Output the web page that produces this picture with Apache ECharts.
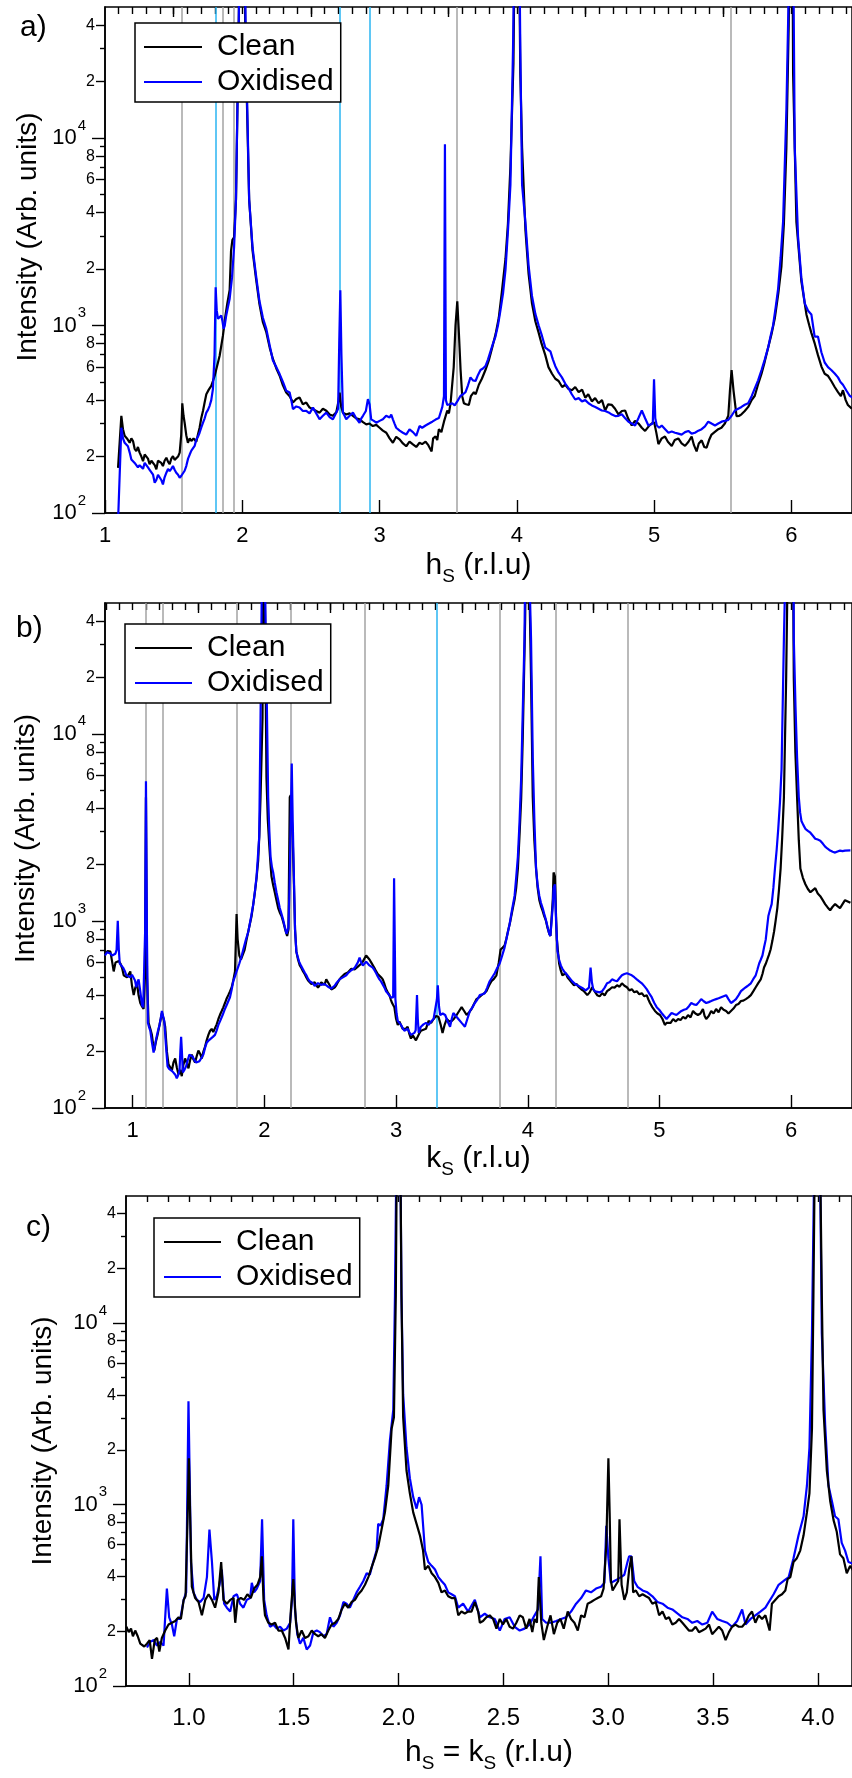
<!DOCTYPE html>
<html><head><meta charset="utf-8">
<script src="https://cdn.jsdelivr.net/npm/echarts@6/dist/echarts.min.js"></script>
<style>html,body{margin:0;padding:0;background:#fff}#c{width:852px;height:1778px}</style>
</head><body><div id="c"></div>
<script>
const FONT = '"Liberation Sans", Arial, Helvetica, sans-serif';

// ---- tick values / labels ----
const Y_MIN = 100, Y_MAX = 50000;
const Y_MAJOR = [100, 1000, 10000];
const Y_MINOR_LABELED = [200, 400, 600, 800, 2000, 4000, 6000, 8000, 20000, 40000];
const Y_MINOR = [300, 500, 700, 900, 3000, 5000, 7000, 9000, 30000];
const A_X_MAJOR = [1, 2, 3, 4, 5, 6];
const A_X_HALF = [1.5, 2.5, 3.5, 4.5, 5.5];
const B_X_MAJOR = [1, 2, 3, 4, 5, 6];
const B_X_HALF = [1.5, 2.5, 3.5, 4.5, 5.5];
const C_X_MAJOR = [1.0, 1.5, 2.0, 2.5, 3.0, 3.5, 4.0];

// ---- reference lines ----
const A_GRAY = [1.562, 1.863, 1.936, 3.562, 5.564];
const A_CYAN = [1.81, 2.71, 2.93];
const B_GRAY = [1.101, 1.23, 1.795, 2.2, 2.763, 3.795, 4.205, 4.763];
const B_CYAN = [3.31];

// ---- panel a: h_S scan ----
const A_CLEAN = [[1.095,174],[1.119,330],[1.131,280],[1.143,258],[1.16,250],[1.18,237],[1.192,250],[1.204,242],[1.216,220],[1.228,214],[1.24,225],[1.252,210],[1.265,200],[1.277,189],[1.289,205],[1.301,210],[1.313,195],[1.325,182],[1.338,190],[1.35,193],[1.362,180],[1.374,171],[1.386,190],[1.398,193],[1.41,185],[1.422,178],[1.434,190],[1.447,197],[1.459,188],[1.471,182],[1.483,195],[1.495,201],[1.507,192],[1.519,189],[1.532,200],[1.544,210],[1.555,260],[1.563,385],[1.572,330],[1.58,303],[1.592,260],[1.604,237],[1.617,250],[1.629,242],[1.645,250],[1.665,240],[1.677,262],[1.689,285],[1.701,320],[1.714,351],[1.726,390],[1.738,430],[1.756,455],[1.774,477],[1.786,505],[1.799,540],[1.817,610],[1.835,690],[1.847,780],[1.859,883],[1.875,1100],[1.89,1300],[1.908,1550],[1.918,2500],[1.928,2860],[1.94,2950],[1.954,4700],[1.973,36000],[1.99,300000],[2.0,400000],[2.01,300000],[2.022,36000],[2.05,4700],[2.075,2500],[2.1,1780],[2.125,1300],[2.15,1042],[2.175,921],[2.2,760],[2.223,663],[2.248,590],[2.272,540],[2.296,480],[2.32,439],[2.345,420],[2.369,388],[2.393,405],[2.417,413],[2.441,380],[2.466,388],[2.49,365],[2.515,358],[2.539,350],[2.563,343],[2.587,360],[2.612,351],[2.636,335],[2.66,330],[2.685,345],[2.702,400],[2.709,439],[2.72,370],[2.733,343],[2.757,335],[2.782,340],[2.806,330],[2.83,320],[2.854,316],[2.879,305],[2.903,297],[2.927,300],[2.951,291],[2.976,295],[3.0,285],[3.024,275],[3.049,268],[3.073,250],[3.097,237],[3.121,255],[3.146,247],[3.17,235],[3.194,227],[3.218,240],[3.243,232],[3.267,225],[3.291,237],[3.31,233],[3.335,240],[3.355,230],[3.379,213],[3.39,250],[3.408,256],[3.42,245],[3.432,280],[3.45,270],[3.469,307],[3.48,300],[3.493,352],[3.505,340],[3.517,385],[3.54,600],[3.553,1000],[3.566,1346],[3.578,900],[3.59,579],[3.602,420],[3.614,385],[3.63,380],[3.65,377],[3.665,420],[3.687,441],[3.7,430],[3.723,483],[3.745,520],[3.771,579],[3.795,650],[3.82,762],[3.845,900],[3.868,1096],[3.89,1500],[3.917,2265],[3.935,3500],[3.953,7060],[3.975,25000],[3.99,300000],[4.0,400000],[4.01,300000],[4.025,22000],[4.038,8870],[4.062,3260],[4.085,1900],[4.11,1313],[4.135,1050],[4.159,914],[4.18,800],[4.207,695],[4.23,600],[4.256,553],[4.28,520],[4.304,506],[4.33,470],[4.353,483],[4.375,460],[4.401,452],[4.425,470],[4.45,441],[4.475,455],[4.498,412],[4.52,430],[4.546,394],[4.57,410],[4.595,385],[4.62,400],[4.643,352],[4.665,380],[4.692,377],[4.715,360],[4.74,336],[4.765,350],[4.789,352],[4.81,320],[4.837,293],[4.86,310],[4.886,300],[4.91,285],[4.934,274],[4.96,290],[4.982,300],[5.0,305],[5.015,270],[5.031,233],[5.055,250],[5.079,256],[5.1,240],[5.128,228],[5.15,245],[5.176,250],[5.2,235],[5.225,228],[5.25,240],[5.273,256],[5.29,230],[5.309,213],[5.325,235],[5.346,244],[5.365,225],[5.382,223],[5.4,245],[5.418,262],[5.44,270],[5.467,280],[5.49,285],[5.515,300],[5.54,330],[5.552,450],[5.564,579],[5.578,450],[5.6,329],[5.62,330],[5.636,336],[5.66,350],[5.685,368],[5.71,400],[5.733,422],[5.755,480],[5.782,553],[5.805,640],[5.83,762],[5.855,900],[5.879,1096],[5.905,1500],[5.927,2070],[5.945,3500],[5.963,8870],[5.98,40000],[5.995,400000],[6.005,300000],[6.012,22000],[6.036,3570],[6.072,1725],[6.109,1146],[6.13,1000],[6.145,914],[6.17,800],[6.193,695],[6.22,600],[6.242,553],[6.265,540],[6.29,506],[6.315,470],[6.339,441],[6.36,420],[6.375,452],[6.395,400],[6.411,377],[6.44,360]];
const A_OXIDISED = [[1.095,90],[1.119,285],[1.131,250],[1.143,237],[1.155,240],[1.167,227],[1.18,210],[1.192,193],[1.204,190],[1.216,185],[1.228,182],[1.24,175],[1.252,180],[1.265,178],[1.277,172],[1.289,185],[1.301,182],[1.313,175],[1.325,170],[1.337,167],[1.35,160],[1.362,145],[1.374,150],[1.386,160],[1.398,157],[1.41,150],[1.422,142],[1.434,155],[1.447,164],[1.459,172],[1.471,167],[1.483,172],[1.495,178],[1.507,170],[1.519,164],[1.532,160],[1.544,154],[1.556,158],[1.568,160],[1.58,168],[1.592,178],[1.605,195],[1.617,205],[1.629,215],[1.641,210],[1.653,228],[1.665,247],[1.677,255],[1.689,268],[1.701,285],[1.714,303],[1.726,320],[1.738,343],[1.75,355],[1.762,373],[1.774,400],[1.786,458],[1.798,700],[1.806,1600],[1.814,1200],[1.823,1086],[1.835,1100],[1.847,1132],[1.856,1050],[1.864,960],[1.872,1000],[1.883,1132],[1.895,1250],[1.908,1390],[1.925,1800],[1.94,2600],[1.954,4700],[1.973,36000],[1.99,300000],[2.0,400000],[2.01,300000],[2.025,36000],[2.05,4700],[2.075,2600],[2.1,1850],[2.125,1350],[2.15,1100],[2.175,960],[2.2,780],[2.223,650],[2.248,600],[2.272,551],[2.296,500],[2.32,449],[2.345,439],[2.357,400],[2.369,358],[2.393,370],[2.417,365],[2.441,350],[2.466,351],[2.49,340],[2.515,365],[2.539,340],[2.563,316],[2.587,330],[2.612,343],[2.636,325],[2.66,316],[2.684,343],[2.698,360],[2.706,800],[2.714,1540],[2.722,700],[2.733,343],[2.745,330],[2.757,316],[2.782,330],[2.806,343],[2.83,320],[2.854,303],[2.867,320],[2.879,330],[2.9,350],[2.915,405],[2.927,380],[2.939,316],[2.958,310],[2.976,303],[3.0,310],[3.024,316],[3.048,330],[3.073,323],[3.085,335],[3.097,316],[3.109,300],[3.121,285],[3.146,275],[3.17,268],[3.194,262],[3.218,279],[3.243,270],[3.267,258],[3.291,291],[3.31,285],[3.335,293],[3.36,300],[3.384,307],[3.408,315],[3.432,321],[3.457,368],[3.469,420],[3.476,9270],[3.483,400],[3.493,377],[3.51,380],[3.529,385],[3.547,375],[3.566,394],[3.59,422],[3.608,430],[3.626,441],[3.644,480],[3.662,529],[3.68,510],[3.699,506],[3.717,545],[3.735,579],[3.753,590],[3.771,607],[3.79,660],[3.808,728],[3.826,800],[3.844,873],[3.862,1000],[3.88,1200],[3.9,1500],[3.917,1978],[3.935,3200],[3.953,5620],[3.972,30000],[3.99,300000],[4.0,400000],[4.012,300000],[4.025,30000],[4.038,5620],[4.062,3570],[4.085,2100],[4.11,1438],[4.135,1150],[4.159,1000],[4.183,880],[4.207,762],[4.225,745],[4.244,728],[4.262,660],[4.28,607],[4.304,560],[4.328,529],[4.352,490],[4.377,462],[4.4,430],[4.425,403],[4.45,410],[4.474,394],[4.498,400],[4.522,385],[4.546,375],[4.571,368],[4.595,360],[4.619,352],[4.643,350],[4.668,344],[4.692,335],[4.716,329],[4.74,330],[4.764,336],[4.789,320],[4.813,307],[4.837,300],[4.861,293],[4.885,320],[4.91,352],[4.934,320],[4.958,293],[4.99,300],[4.999,517],[5.008,320],[5.019,293],[5.037,285],[5.055,293],[5.08,280],[5.104,268],[5.128,272],[5.152,268],[5.176,265],[5.2,262],[5.225,270],[5.249,274],[5.273,265],[5.297,268],[5.322,275],[5.346,280],[5.37,290],[5.394,307],[5.418,300],[5.443,293],[5.467,300],[5.491,307],[5.515,310],[5.54,314],[5.564,330],[5.588,352],[5.612,360],[5.636,368],[5.66,378],[5.685,385],[5.71,420],[5.733,462],[5.757,510],[5.782,579],[5.806,660],[5.83,762],[5.848,880],[5.866,1000],[5.885,1250],[5.903,1575],[5.921,2300],[5.939,3570],[5.963,13960],[5.98,60000],[5.995,400000],[6.008,300000],[6.024,8870],[6.048,2980],[6.072,1800],[6.097,1313],[6.121,1200],[6.145,1146],[6.169,873],[6.193,873],[6.218,720],[6.242,635],[6.266,600],[6.29,579],[6.315,555],[6.339,529],[6.357,500],[6.375,483],[6.4,450],[6.424,422],[6.45,410]];

// ---- panel b: k_S scan ----
const B_CLEAN = [[0.79,668],[0.81,690],[0.831,685],[0.845,600],[0.856,537],[0.87,600],[0.881,592],[0.895,610],[0.907,592],[0.92,560],[0.932,512],[0.945,520],[0.957,499],[0.97,510],[0.982,537],[0.995,450],[1.008,401],[1.02,440],[1.033,464],[1.045,400],[1.058,364],[1.07,350],[1.083,338],[1.093,500],[1.101,4580],[1.109,500],[1.121,285],[1.134,265],[1.146,246],[1.155,220],[1.164,203],[1.176,225],[1.189,246],[1.205,280],[1.222,322],[1.235,300],[1.247,272],[1.26,200],[1.272,171],[1.285,165],[1.298,159],[1.31,175],[1.323,184],[1.335,165],[1.348,151],[1.36,160],[1.373,148],[1.385,170],[1.398,184],[1.41,175],[1.424,163],[1.436,180],[1.449,193],[1.461,182],[1.474,175],[1.487,190],[1.499,203],[1.512,195],[1.525,184],[1.537,200],[1.55,213],[1.562,230],[1.575,246],[1.587,258],[1.6,265],[1.612,255],[1.625,259],[1.638,280],[1.651,299],[1.663,315],[1.676,330],[1.688,345],[1.701,364],[1.714,385],[1.726,401],[1.739,420],[1.752,442],[1.764,480],[1.777,537],[1.784,800],[1.789,1089],[1.797,800],[1.81,653],[1.822,620],[1.835,606],[1.85,700],[1.865,794],[1.884,920],[1.903,1062],[1.916,1230],[1.928,1422],[1.941,1700],[1.953,2100],[1.962,2900],[1.971,4580],[1.986,12150],[1.995,300000],[2.005,300000],[2.016,5850],[2.026,3500],[2.037,2555],[2.047,2000],[2.054,1730],[2.067,1550],[2.079,1422],[2.092,1290],[2.105,1171],[2.117,1110],[2.13,1062],[2.143,990],[2.155,918],[2.164,870],[2.173,830],[2.183,900],[2.193,4580],[2.2,4700],[2.208,4800],[2.215,2800],[2.223,1730],[2.233,900],[2.243,685],[2.256,620],[2.269,578],[2.281,560],[2.294,537],[2.306,520],[2.319,499],[2.332,480],[2.344,476],[2.357,460],[2.369,453],[2.382,470],[2.395,464],[2.407,440],[2.42,453],[2.432,470],[2.445,476],[2.457,455],[2.47,487],[2.483,470],[2.496,453],[2.508,430],[2.521,421],[2.533,440],[2.546,453],[2.558,470],[2.571,487],[2.584,500],[2.596,512],[2.609,520],[2.622,525],[2.634,530],[2.647,537],[2.66,555],[2.672,563],[2.685,550],[2.697,563],[2.71,570],[2.723,578],[2.735,590],[2.748,606],[2.76,630],[2.773,653],[2.786,640],[2.798,622],[2.811,600],[2.823,592],[2.836,560],[2.849,537],[2.861,520],[2.874,512],[2.886,500],[2.899,487],[2.912,460],[2.924,432],[2.937,415],[2.95,401],[2.96,380],[2.97,364],[2.978,355],[2.987,346],[3.0,300],[3.013,278],[3.025,290],[3.038,285],[3.05,265],[3.063,259],[3.075,265],[3.088,272],[3.1,250],[3.113,235],[3.126,245],[3.139,240],[3.151,230],[3.164,235],[3.176,250],[3.189,259],[3.208,262],[3.227,265],[3.247,292],[3.266,285],[3.285,299],[3.303,310],[3.322,307],[3.338,280],[3.353,252],[3.37,280],[3.385,299],[3.404,290],[3.423,292],[3.44,300],[3.46,314],[3.479,330],[3.498,346],[3.517,330],[3.536,314],[3.555,325],[3.573,338],[3.592,360],[3.611,382],[3.63,390],[3.649,401],[3.668,410],[3.686,421],[3.705,450],[3.724,476],[3.743,490],[3.762,512],[3.78,600],[3.794,703],[3.81,720],[3.824,738],[3.837,800],[3.849,875],[3.868,1000],[3.887,1171],[3.9,1300],[3.912,1495],[3.925,1900],[3.937,2818],[3.95,4500],[3.962,9520],[3.98,40000],[3.995,300000],[4.005,300000],[4.025,19800],[4.038,4580],[4.05,2700],[4.063,1906],[4.075,1500],[4.088,1291],[4.1,1200],[4.113,1130],[4.125,1060],[4.138,1002],[4.15,920],[4.163,853],[4.172,830],[4.181,813],[4.19,1300],[4.196,1815],[4.206,1730],[4.214,1100],[4.221,796],[4.23,680],[4.238,592],[4.25,545],[4.263,512],[4.276,500],[4.289,525],[4.301,500],[4.314,487],[4.332,470],[4.351,453],[4.37,460],[4.389,442],[4.408,430],[4.427,421],[4.44,430],[4.452,401],[4.47,415],[4.489,442],[4.508,420],[4.527,401],[4.546,395],[4.565,411],[4.584,400],[4.602,421],[4.621,430],[4.64,442],[4.659,440],[4.678,453],[4.697,445],[4.715,464],[4.734,450],[4.753,442],[4.772,425],[4.79,432],[4.809,415],[4.828,421],[4.847,405],[4.866,411],[4.885,395],[4.903,401],[4.916,380],[4.928,364],[4.947,345],[4.966,330],[4.985,320],[5.004,314],[5.022,300],[5.041,278],[5.054,285],[5.066,292],[5.085,285],[5.104,299],[5.123,290],[5.142,299],[5.16,295],[5.179,307],[5.198,300],[5.217,314],[5.236,305],[5.255,330],[5.273,320],[5.292,314],[5.311,320],[5.33,338],[5.343,310],[5.355,299],[5.374,310],[5.393,330],[5.411,320],[5.43,338],[5.449,325],[5.468,346],[5.487,335],[5.506,330],[5.524,320],[5.543,330],[5.562,340],[5.581,355],[5.6,360],[5.619,373],[5.637,375],[5.656,382],[5.675,390],[5.694,401],[5.712,420],[5.731,442],[5.75,465],[5.769,487],[5.782,520],[5.794,563],[5.807,590],[5.819,622],[5.832,660],[5.844,703],[5.857,780],[5.87,875],[5.882,1000],[5.895,1171],[5.907,1450],[5.92,1906],[5.932,2800],[5.945,4580],[5.962,19800],[5.985,300000],[6.0,400000],[6.01,300000],[6.02,19800],[6.032,8000],[6.045,4580],[6.058,2700],[6.07,1906],[6.089,1700],[6.108,1570],[6.127,1480],[6.146,1422],[6.165,1460],[6.183,1495],[6.202,1400],[6.221,1355],[6.24,1290],[6.258,1230],[6.277,1180],[6.296,1140],[6.315,1190],[6.334,1230],[6.352,1200],[6.371,1171],[6.39,1230],[6.409,1291],[6.45,1250]];
const B_OXIDISED = [[0.79,653],[0.805,680],[0.818,685],[0.831,670],[0.844,653],[0.857,660],[0.869,668],[0.878,700],[0.887,1002],[0.895,700],[0.902,592],[0.914,580],[0.927,563],[0.94,540],[0.952,512],[0.967,505],[0.982,499],[0.995,515],[1.008,525],[1.018,480],[1.028,442],[1.037,470],[1.045,487],[1.058,420],[1.071,355],[1.08,345],[1.088,338],[1.095,900],[1.101,5570],[1.108,900],[1.116,285],[1.125,270],[1.134,259],[1.146,225],[1.159,198],[1.169,215],[1.179,235],[1.19,255],[1.204,278],[1.213,300],[1.222,330],[1.231,310],[1.24,292],[1.252,220],[1.265,167],[1.277,162],[1.29,159],[1.302,157],[1.315,155],[1.325,150],[1.335,144],[1.346,150],[1.356,159],[1.362,200],[1.368,240],[1.374,200],[1.381,155],[1.393,160],[1.406,167],[1.418,180],[1.431,193],[1.443,190],[1.456,188],[1.469,180],[1.482,175],[1.494,176],[1.507,178],[1.522,185],[1.537,193],[1.55,210],[1.562,223],[1.578,230],[1.593,235],[1.609,240],[1.625,246],[1.638,260],[1.651,278],[1.667,295],[1.683,314],[1.698,335],[1.714,355],[1.726,372],[1.739,391],[1.752,430],[1.764,476],[1.777,505],[1.789,537],[1.8,565],[1.81,592],[1.825,640],[1.84,703],[1.859,790],[1.878,875],[1.897,1030],[1.916,1230],[1.929,1450],[1.941,1730],[1.951,2200],[1.961,2818],[1.971,12150],[1.99,300000],[2.005,300000],[2.016,19800],[2.029,4580],[2.038,3000],[2.047,2200],[2.057,1950],[2.067,1815],[2.079,1600],[2.092,1422],[2.105,1290],[2.117,1171],[2.13,1090],[2.143,1012],[2.155,930],[2.168,853],[2.176,870],[2.183,918],[2.191,1500],[2.198,2818],[2.208,6940],[2.215,3500],[2.223,1906],[2.233,900],[2.243,685],[2.254,640],[2.264,606],[2.279,575],[2.294,550],[2.306,530],[2.319,512],[2.332,490],[2.344,476],[2.357,470],[2.369,464],[2.382,450],[2.395,453],[2.407,465],[2.42,464],[2.432,455],[2.445,453],[2.457,460],[2.47,453],[2.483,445],[2.496,442],[2.508,435],[2.521,432],[2.533,450],[2.546,464],[2.558,475],[2.571,487],[2.584,495],[2.596,499],[2.609,505],[2.622,512],[2.634,525],[2.647,537],[2.66,545],[2.672,550],[2.685,560],[2.697,563],[2.71,600],[2.723,637],[2.735,600],[2.748,578],[2.76,590],[2.773,606],[2.786,595],[2.798,578],[2.811,570],[2.823,563],[2.836,545],[2.849,525],[2.861,505],[2.874,487],[2.886,475],[2.899,464],[2.912,440],[2.924,421],[2.937,410],[2.95,401],[2.96,390],[2.97,382],[2.978,390],[2.985,1690],[2.995,382],[3.004,320],[3.013,292],[3.025,285],[3.038,278],[3.05,268],[3.063,259],[3.075,262],[3.088,265],[3.1,255],[3.113,246],[3.126,250],[3.139,252],[3.149,260],[3.159,401],[3.165,300],[3.172,252],[3.18,262],[3.189,272],[3.208,280],[3.227,285],[3.247,278],[3.266,290],[3.285,299],[3.3,300],[3.31,380],[3.317,453],[3.326,350],[3.335,314],[3.354,320],[3.373,314],[3.392,290],[3.41,272],[3.423,300],[3.435,322],[3.454,310],[3.473,299],[3.498,285],[3.523,272],[3.542,300],[3.561,330],[3.58,345],[3.598,364],[3.617,380],[3.636,401],[3.655,405],[3.674,411],[3.692,440],[3.711,476],[3.73,500],[3.749,525],[3.768,560],[3.787,592],[3.805,650],[3.824,720],[3.843,830],[3.862,960],[3.881,1150],[3.9,1360],[3.912,1700],[3.925,2200],[3.937,3300],[3.95,5800],[3.975,32000],[3.99,300000],[4.005,300000],[4.025,32000],[4.038,7460],[4.05,3500],[4.063,1906],[4.075,1550],[4.088,1360],[4.1,1250],[4.113,1171],[4.125,1090],[4.138,1012],[4.15,930],[4.163,853],[4.172,830],[4.181,813],[4.19,1200],[4.196,1495],[4.206,1570],[4.215,1000],[4.226,685],[4.238,620],[4.251,578],[4.263,555],[4.276,537],[4.289,525],[4.301,512],[4.314,500],[4.326,487],[4.338,475],[4.351,464],[4.363,458],[4.376,453],[4.389,448],[4.402,442],[4.414,438],[4.427,432],[4.44,425],[4.452,421],[4.465,440],[4.477,563],[4.487,470],[4.497,432],[4.512,420],[4.527,411],[4.546,415],[4.565,421],[4.584,440],[4.602,464],[4.621,470],[4.64,487],[4.659,480],[4.678,476],[4.697,495],[4.715,512],[4.734,520],[4.753,525],[4.772,518],[4.79,512],[4.809,500],[4.828,487],[4.847,475],[4.866,464],[4.885,448],[4.903,432],[4.922,410],[4.941,391],[4.96,365],[4.979,346],[4.998,335],[5.016,322],[5.035,310],[5.054,299],[5.073,310],[5.092,322],[5.11,318],[5.129,314],[5.148,322],[5.167,330],[5.186,335],[5.205,338],[5.224,350],[5.242,364],[5.261,358],[5.28,355],[5.299,368],[5.317,382],[5.336,372],[5.355,364],[5.374,368],[5.393,373],[5.411,378],[5.43,382],[5.449,386],[5.468,391],[5.487,396],[5.506,401],[5.524,382],[5.543,364],[5.562,372],[5.581,382],[5.6,400],[5.619,421],[5.637,432],[5.656,442],[5.675,452],[5.694,464],[5.712,488],[5.731,512],[5.744,550],[5.757,592],[5.769,620],[5.782,653],[5.794,720],[5.807,794],[5.817,920],[5.827,1062],[5.84,1150],[5.852,1230],[5.865,1500],[5.877,1906],[5.89,2400],[5.902,3105],[5.915,4300],[5.927,6450],[5.945,32200],[5.975,300000],[6.0,400000],[6.015,300000],[6.02,32200],[6.033,14000],[6.045,7460],[6.058,4580],[6.068,3800],[6.078,3422],[6.093,3250],[6.108,3105],[6.127,3030],[6.146,2959],[6.165,2850],[6.183,2750],[6.202,2720],[6.221,2684],[6.24,2590],[6.258,2494],[6.277,2430],[6.296,2375],[6.315,2340],[6.334,2317],[6.352,2350],[6.371,2375],[6.39,2360],[6.409,2375],[6.45,2380]];

// ---- panel c: h_S = k_S scan ----
const C_CLEAN = [[0.702,212],[0.713,198],[0.724,207],[0.733,188],[0.744,202],[0.756,188],[0.768,171],[0.787,165],[0.8,171],[0.813,179],[0.824,141],[0.837,179],[0.848,184],[0.859,155],[0.871,184],[0.887,202],[0.903,218],[0.919,223],[0.935,228],[0.951,239],[0.962,234],[0.975,298],[0.984,312],[0.994,861],[1.0,1795],[1.006,861],[1.014,352],[1.03,305],[1.046,290],[1.062,245],[1.078,298],[1.094,320],[1.11,298],[1.125,270],[1.141,328],[1.154,482],[1.165,298],[1.181,284],[1.197,298],[1.213,305],[1.221,223],[1.232,298],[1.248,305],[1.263,298],[1.279,320],[1.295,305],[1.311,344],[1.327,361],[1.34,398],[1.348,518],[1.356,298],[1.363,245],[1.379,223],[1.395,218],[1.411,223],[1.427,202],[1.443,202],[1.459,184],[1.475,159],[1.486,257],[1.498,388],[1.511,223],[1.522,184],[1.538,202],[1.554,184],[1.57,188],[1.586,202],[1.602,193],[1.617,188],[1.633,193],[1.649,184],[1.665,202],[1.681,218],[1.697,223],[1.713,234],[1.729,264],[1.744,284],[1.76,270],[1.776,290],[1.792,298],[1.808,320],[1.824,336],[1.84,361],[1.856,398],[1.871,449],[1.887,506],[1.903,585],[1.919,728],[1.935,904],[1.951,1268],[1.967,2612],[1.978,3020],[1.987,14170],[1.995,300000],[2.005,300000],[2.014,14170],[2.022,3020],[2.038,1538],[2.054,1151],[2.07,904],[2.086,782],[2.102,676],[2.117,557],[2.126,438],[2.142,459],[2.158,418],[2.174,398],[2.19,370],[2.205,328],[2.221,336],[2.237,312],[2.253,305],[2.269,305],[2.285,245],[2.3,257],[2.316,251],[2.332,257],[2.348,257],[2.364,290],[2.38,257],[2.388,223],[2.403,228],[2.419,239],[2.435,245],[2.451,234],[2.467,207],[2.483,234],[2.498,218],[2.514,234],[2.53,212],[2.546,207],[2.562,223],[2.578,245],[2.593,239],[2.609,207],[2.625,234],[2.638,198],[2.649,234],[2.66,223],[2.669,398],[2.681,223],[2.693,179],[2.709,212],[2.725,245],[2.741,193],[2.757,223],[2.772,234],[2.788,207],[2.807,257],[2.823,234],[2.839,223],[2.855,202],[2.871,245],[2.887,239],[2.902,284],[2.918,290],[2.934,298],[2.95,305],[2.966,312],[2.978,344],[2.991,600],[3.001,1795],[3.007,900],[3.013,380],[3.021,336],[3.037,361],[3.048,379],[3.054,829],[3.064,361],[3.077,298],[3.089,328],[3.1,438],[3.111,518],[3.119,328],[3.132,336],[3.148,312],[3.164,320],[3.18,312],[3.195,305],[3.211,284],[3.227,290],[3.243,245],[3.259,257],[3.275,234],[3.29,239],[3.306,218],[3.322,223],[3.338,234],[3.354,223],[3.37,212],[3.385,202],[3.401,202],[3.417,212],[3.433,198],[3.449,202],[3.465,207],[3.481,218],[3.496,193],[3.512,202],[3.528,212],[3.544,202],[3.56,179],[3.576,198],[3.591,212],[3.607,218],[3.623,212],[3.639,212],[3.655,223],[3.671,245],[3.686,257],[3.702,223],[3.718,245],[3.734,234],[3.75,245],[3.77,202],[3.781,284],[3.797,298],[3.813,312],[3.829,320],[3.845,336],[3.856,388],[3.869,398],[3.884,482],[3.9,506],[3.916,557],[3.932,676],[3.948,904],[3.96,1151],[3.972,2612],[3.979,14170],[3.99,300000],[4.005,300000],[4.019,14170],[4.027,3326],[4.043,1538],[4.059,1045],[4.075,820],[4.09,710],[4.106,531],[4.122,506],[4.138,418],[4.154,459],[4.17,430]];
const C_OXIDISED = [[0.8,163],[0.816,175],[0.832,179],[0.848,167],[0.863,175],[0.879,167],[0.895,344],[0.906,239],[0.919,218],[0.93,188],[0.943,234],[0.959,234],[0.975,298],[0.987,328],[0.998,3701],[1.01,482],[1.022,328],[1.038,298],[1.054,290],[1.07,305],[1.086,398],[1.098,728],[1.11,482],[1.121,298],[1.133,312],[1.146,361],[1.157,438],[1.168,284],[1.181,270],[1.197,257],[1.213,312],[1.229,320],[1.244,284],[1.26,270],[1.276,298],[1.292,305],[1.3,370],[1.311,328],[1.324,344],[1.34,379],[1.349,829],[1.359,298],[1.371,245],[1.387,212],[1.403,218],[1.419,207],[1.435,212],[1.451,202],[1.467,207],[1.483,223],[1.492,298],[1.498,829],[1.506,264],[1.517,193],[1.53,171],[1.546,184],[1.562,159],[1.578,167],[1.594,198],[1.61,202],[1.625,198],[1.641,188],[1.657,193],[1.673,239],[1.689,212],[1.705,223],[1.721,245],[1.737,290],[1.752,284],[1.768,270],[1.784,298],[1.8,328],[1.816,352],[1.832,379],[1.848,418],[1.863,410],[1.879,482],[1.895,557],[1.903,782],[1.914,764],[1.927,829],[1.943,1268],[1.959,2261],[1.975,3326],[1.983,14170],[1.995,300000],[2.005,300000],[2.014,14170],[2.022,4036],[2.038,2053],[2.054,1396],[2.07,1097],[2.086,949],[2.098,1097],[2.11,996],[2.126,557],[2.142,482],[2.158,459],[2.174,438],[2.19,398],[2.205,379],[2.221,361],[2.237,328],[2.253,320],[2.269,312],[2.285,270],[2.308,284],[2.332,257],[2.364,298],[2.388,239],[2.411,250],[2.435,239],[2.459,234],[2.483,202],[2.506,234],[2.53,239],[2.554,212],[2.578,202],[2.601,207],[2.625,218],[2.649,245],[2.665,264],[2.677,518],[2.685,234],[2.704,223],[2.728,223],[2.752,228],[2.776,234],[2.799,239],[2.823,257],[2.847,284],[2.871,305],[2.894,336],[2.918,328],[2.942,344],[2.966,352],[2.982,370],[2.991,764],[3.001,506],[3.013,370],[3.029,379],[3.045,388],[3.061,398],[3.077,410],[3.092,482],[3.1,518],[3.111,518],[3.124,379],[3.14,352],[3.164,336],[3.187,328],[3.211,312],[3.235,290],[3.259,284],[3.283,270],[3.306,264],[3.33,251],[3.354,239],[3.378,234],[3.401,223],[3.425,228],[3.449,218],[3.473,223],[3.496,257],[3.52,234],[3.544,228],[3.568,223],[3.591,212],[3.615,228],[3.639,264],[3.655,218],[3.679,234],[3.702,245],[3.726,257],[3.75,270],[3.766,290],[3.789,320],[3.813,361],[3.837,379],[3.861,398],[3.884,506],[3.908,676],[3.932,861],[3.948,1268],[3.96,2053],[3.972,8740],[3.99,300000],[4.005,300000],[4.019,8740],[4.035,2741],[4.051,1268],[4.067,1045],[4.082,861],[4.098,829],[4.114,614],[4.13,557],[4.146,482],[4.17,470]];

// ---- helpers ----
function tenths(a, b) { const out = []; for (let k = Math.round(a * 10); k <= Math.round(b * 10); k++) out.push(k / 10); return out; }
const L = v => Math.log10(v);
const LMIN = L(Y_MIN), LMAX = L(Y_MAX);
const BLACK = '#000000', BLUE = '#0000ff', GRAY = '#a3a3a3', CYAN = '#2ab4f2';

const panels = [
  { grid: { left: 105, top: 7, right: -2, height: 506 }, xMin: 1, xMax: 6.441,
    xMajor: A_X_MAJOR, xHalf: A_X_HALF, xMinor: tenths(1.1, 6.4), xFmt: v => String(v), xFont: 22, xMargin: 12, minorLen: 7,
    xName: '{m|h}{s|S}{m| (r.l.u)}', xNameGap: 43, yNameGap: 63, yNamePad: 46,
    clean: A_CLEAN, ox: A_OXIDISED, gray: A_GRAY, cyan: A_CYAN, blackOnTop: false,
    legend: { left: 135, top: 23, itemWidth: 58, padLeft: 9 }, letter: { text: 'a)', left: 20, top: 13 } },
  { grid: { left: 105, top: 603, right: -2, height: 505 }, xMin: 0.79, xMax: 6.462,
    xMajor: B_X_MAJOR, xHalf: B_X_HALF, xMinor: tenths(0.8, 6.4), xFmt: v => String(v), xFont: 22, xMargin: 12, minorLen: 7,
    xName: '{m|k}{s|S}{m| (r.l.u)}', xNameGap: 41, yNameGap: 65, yNamePad: 34,
    clean: B_CLEAN, ox: B_OXIDISED, gray: B_GRAY, cyan: B_CYAN, blackOnTop: false,
    legend: { left: 125, top: 624, itemWidth: 57, padLeft: 10 }, letter: { text: 'b)', left: 16, top: 614 } },
  { grid: { left: 126, top: 1196, right: -2, height: 490 }, xMin: 0.7, xMax: 4.163,
    xMajor: C_X_MAJOR, xHalf: [], xMinor: tenths(0.8, 4.1), xFmt: v => v.toFixed(1), xFont: 24, xMargin: 20, minorLen: 6,
    xName: '{m|h}{s|S}{m| = k}{s|S}{m| (r.l.u)}', xNameGap: 57, yNameGap: 69, yNamePad: 0,
    clean: C_CLEAN, ox: C_OXIDISED, gray: [], cyan: [], blackOnTop: true,
    legend: { left: 154, top: 1218, itemWidth: 57, padLeft: 10 }, letter: { text: 'c)', left: 26, top: 1213 } }
];

const tickLine = { color: BLACK, width: 1.4 };
const option = { animation: false, backgroundColor: '#ffffff', grid: [], xAxis: [], yAxis: [], series: [], legend: [], graphic: [] };

panels.forEach((p, gi) => {
  option.grid.push(Object.assign({ show: true, borderColor: BLACK, borderWidth: 1.5, backgroundColor: 'transparent' }, p.grid));
  const xBase = { type: 'value', gridIndex: gi, min: p.xMin, max: p.xMax, splitLine: { show: false },
    axisLine: { show: false, onZero: false }, axisLabel: { show: false }, axisTick: { show: false } };
  const xi = option.xAxis.length;
  option.xAxis.push(Object.assign({}, xBase, {
    axisLine: { show: true, onZero: false, lineStyle: { color: BLACK, width: 1.6 } },
    axisTick: { show: true, inside: true, length: 13, customValues: p.xMajor, lineStyle: tickLine },
    axisLabel: { show: true, customValues: p.xMajor, formatter: p.xFmt, margin: p.xMargin, fontSize: p.xFont, fontFamily: FONT, color: BLACK },
    name: p.xName, nameLocation: 'middle', nameGap: p.xNameGap,
    nameTextStyle: { rich: {
      m: { fontSize: 30, lineHeight: 30, fontFamily: FONT, color: BLACK, verticalAlign: 'bottom', padding: [0, 0, 5, 0] },
      s: { fontSize: 19, lineHeight: 19, fontFamily: FONT, color: BLACK, verticalAlign: 'bottom' } } }
  }));
  option.xAxis.push(Object.assign({}, xBase, {
    axisTick: { show: p.xHalf.length > 0, inside: true, length: 10, customValues: p.xHalf, lineStyle: tickLine } }));
  option.xAxis.push(Object.assign({}, xBase, {
    axisTick: { show: true, inside: true, length: p.minorLen, customValues: p.xMinor, lineStyle: tickLine } }));

  const yi = option.yAxis.length;
  option.yAxis.push({ type: 'log', logBase: 10, gridIndex: gi, min: Y_MIN, max: Y_MAX, position: 'left',
    axisLine: { show: true, lineStyle: { color: BLACK, width: 1.6 } }, axisTick: { show: false }, axisLabel: { show: false },
    splitLine: { show: false }, minorTick: { show: false },
    name: 'Intensity (Arb. units)', nameLocation: 'middle', nameGap: p.yNameGap, nameRotate: 90,
    nameTextStyle: { fontSize: 28, lineHeight: 28, fontFamily: FONT, color: BLACK, padding: [0, 0, 0, p.yNamePad] } });
  const yBase = { type: 'value', gridIndex: gi, min: LMIN, max: LMAX, position: 'left', offset: 0,
    axisLine: { show: false }, splitLine: { show: false } };
  const majL = Y_MAJOR.map(L), minLabL = Y_MINOR_LABELED.map(L), minL = Y_MINOR.map(L);
  option.yAxis.push(Object.assign({}, yBase, {
    axisTick: { show: true, length: 13, customValues: majL, lineStyle: tickLine },
    axisLabel: { show: true, customValues: majL, margin: 19,
      formatter: v => '{b|10}{p|' + Math.round(v) + '}',
      rich: { b: { fontSize: 22, lineHeight: 22, fontFamily: FONT, color: BLACK, verticalAlign: 'bottom' },
              p: { fontSize: 15, lineHeight: 15, fontFamily: FONT, color: BLACK, verticalAlign: 'bottom', padding: [0, 0, 16, 1] } } } }));
  option.yAxis.push(Object.assign({}, yBase, {
    axisTick: { show: true, length: 9, customValues: minLabL, lineStyle: tickLine },
    axisLabel: { show: true, customValues: minLabL, margin: 10, fontSize: 16, fontFamily: FONT, color: BLACK,
      formatter: v => String(Math.round(Math.pow(10, v) / Math.pow(10, Math.floor(v + 1e-9)))) } }));
  option.yAxis.push(Object.assign({}, yBase, {
    axisTick: { show: true, length: 5, customValues: minL, lineStyle: tickLine }, axisLabel: { show: false } }));

  const refData = p.gray.map(v => ({ xAxis: v, lineStyle: { color: GRAY, width: 1.5, type: 'solid' } }))
    .concat(p.cyan.map(v => ({ xAxis: v, lineStyle: { color: CYAN, width: 1.5, type: 'solid' } })));
  option.series.push({ name: 'refs', type: 'line', xAxisIndex: xi, yAxisIndex: yi, data: [], z: 1,
    markLine: { silent: true, symbol: ['none', 'none'], animation: false, label: { show: false }, z: 1, data: refData } });

  const cleanS = { name: 'Clean', type: 'line', xAxisIndex: xi, yAxisIndex: yi, data: p.clean, symbol: 'none', showSymbol: false,
    lineStyle: { color: BLACK, width: 2.2 }, itemStyle: { color: BLACK }, clip: true, z: p.blackOnTop ? 3 : 2 };
  const oxS = { name: 'Oxidised', type: 'line', xAxisIndex: xi, yAxisIndex: yi, data: p.ox, symbol: 'none', showSymbol: false,
    lineStyle: { color: BLUE, width: 2.2 }, itemStyle: { color: BLUE }, clip: true, z: p.blackOnTop ? 2 : 3 };
  option.series.push(cleanS, oxS);

  option.legend.push({ left: p.legend.left, top: p.legend.top, orient: 'vertical', data: ['Clean', 'Oxidised'],
    icon: 'rect', itemWidth: p.legend.itemWidth, itemHeight: 2, itemGap: 5, padding: [9, 7, 5, p.legend.padLeft],
    borderColor: BLACK, borderWidth: 1.5, backgroundColor: '#ffffff', selectedMode: false, z: 10,
    formatter: name => '{t|' + name + '}',
    textStyle: { fontSize: 30, lineHeight: 30, fontFamily: FONT, color: BLACK,
      rich: { t: { fontSize: 30, lineHeight: 30, fontFamily: FONT, color: BLACK, padding: [0, 0, 0, 10] } } } });

  option.graphic.push({ type: 'text', left: p.letter.left, top: p.letter.top,
    style: { text: p.letter.text, fontSize: 30, fontFamily: FONT, fill: BLACK } });
});

const chart = echarts.init(document.getElementById('c'), null, { renderer: 'canvas' });
chart.setOption(option);
</script>
</body></html>
